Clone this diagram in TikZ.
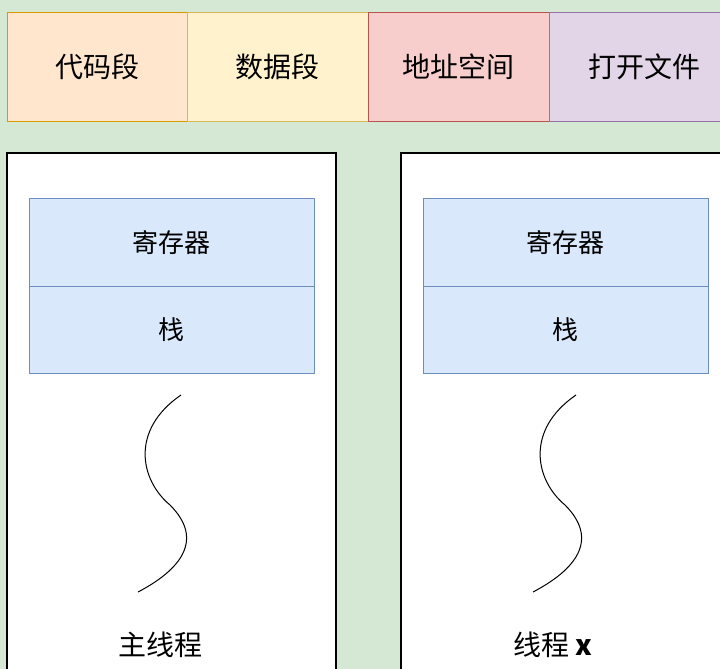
\documentclass[tikz,border=0pt]{standalone}
\usepackage{fontspec}
\setmainfont{Noto Sans CJK SC}
\definecolor{bg}{RGB}{213,232,212}
\definecolor{oD}{RGB}{215,155,0}\definecolor{oF}{RGB}{255,230,204}
\definecolor{yD}{RGB}{214,182,86}\definecolor{yF}{RGB}{255,242,204}
\definecolor{rD}{RGB}{184,84,80}\definecolor{rF}{RGB}{248,206,204}
\definecolor{pD}{RGB}{150,115,166}\definecolor{pF}{RGB}{225,213,231}
\definecolor{bD}{RGB}{108,142,191}\definecolor{bF}{RGB}{218,232,252}
\begin{document}
\begin{tikzpicture}[x=1pt,y=-1pt,
  top/.style={draw=#1D,fill=#1F,line width=0.8pt,minimum height=109pt,minimum width=181pt,anchor=north west,inner sep=0pt,font=\fontsize{28}{32}\selectfont},
  panel/.style={draw=black,line width=1.2pt},
  inbox/.style={draw=bD,fill=bF,line width=0.8pt,minimum width=285pt,minimum height=87.5pt,anchor=north west,inner sep=0pt,font=\fontsize{26}{30}\selectfont},
  lbl/.style={font=\fontsize{28}{32}\selectfont}]
\useasboundingbox (0,0) rectangle (720,669);
\fill[bg] (0,0) rectangle (720,669);
\node[top=o] (a) at (7,12) {代码段};
\node[top=y] (b) at (187,12) {数据段};
\node[top=r] (c) at (368,12) {地址空间};
\node[top=p,minimum width=190pt] (d) at (549,12) {打开文件};
\fill[white] (7,153) rectangle (336,680);
\fill[white] (401,153) rectangle (730,680);
\draw[panel] (7,680) -- (7,153) -- (336,153) -- (336,680);
\draw[panel] (401,680) -- (401,153) -- (730,153);
\node[inbox] (r1) at (29,198) {寄存器};
\node[inbox] (s1) at (29,285.5) {栈};
\node[inbox] (r2) at (423,198) {寄存器};
\node[inbox] (s2) at (423,285.5) {栈};
\draw[line width=1pt] (181,395) .. controls (130,430) and (140,480) .. (170,505) .. controls (205,540) and (180,570) .. (138,592);
\draw[line width=1pt] (576,395) .. controls (525,430) and (535,480) .. (565,505) .. controls (600,540) and (575,570) .. (533,592);
\node[lbl] (t1) at (160,645) {主线程};
\node[lbl] (t2) at (553,645) {线程 \textbf{x}};
\end{tikzpicture}
\end{document}
